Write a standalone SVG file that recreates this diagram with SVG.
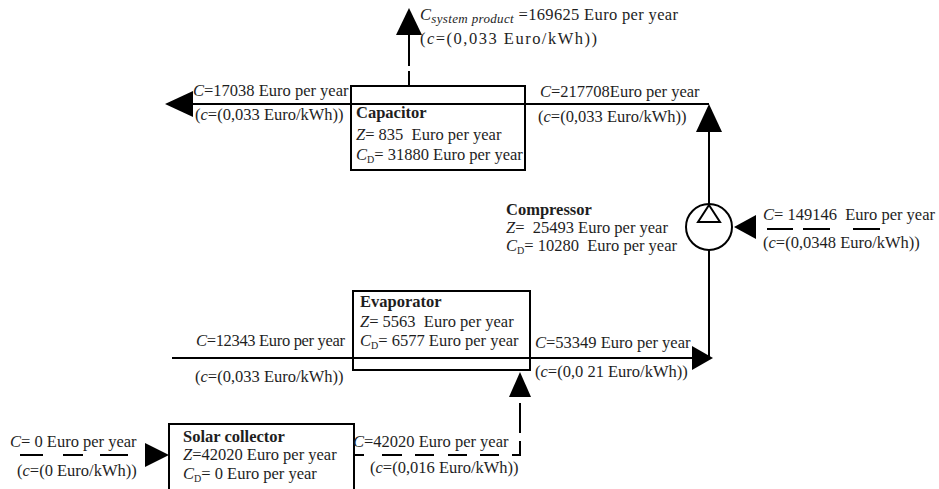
<svg xmlns="http://www.w3.org/2000/svg" width="939" height="489" viewBox="0 0 939 489">
<style>
text{font-family:"Liberation Serif","Times New Roman",serif;font-size:16.5px;fill:#1e1e1e;white-space:pre}
.b{font-weight:bold}
.i{font-style:italic}
.ln{stroke:#000;stroke-width:2;fill:none}
.box{stroke:#000;stroke-width:2;fill:none}
.ah{fill:#000;stroke:none}
</style>
<rect width="939" height="489" fill="#fff"/>
<g id="connectors">
  <line class="ln" x1="409" y1="34" x2="409" y2="66"/>
  <line class="ln" x1="409" y1="71" x2="409" y2="86"/>
  <polygon class="ah" points="409,8 396,35 422,35"/>
  <line class="ln" x1="192" y1="104" x2="709" y2="104"/>
  <polygon class="ah" points="165,104 193,91 193,117"/>
  <line class="ln" x1="709" y1="130" x2="709" y2="204"/>
  <polygon class="ah" points="709,104 696,132 722,132"/>
  <line class="ln" x1="709" y1="250" x2="709" y2="359"/>
  <line class="ln" x1="172" y1="358" x2="694" y2="358"/>
  <polygon class="ah" points="713,358 692,346 692,370"/>
  <polygon class="ah" points="734,227 756,215 756,239"/>
  <line class="ln" x1="767" y1="229" x2="793" y2="229"/>
  <line class="ln" x1="803" y1="229" x2="830" y2="229"/>
  <line class="ln" x1="853" y1="229" x2="880" y2="229"/>
  <line class="ln" x1="20" y1="455" x2="43" y2="455"/>
  <line class="ln" x1="63" y1="455" x2="83" y2="455"/>
  <line class="ln" x1="100" y1="455" x2="128" y2="455"/>
  <polygon class="ah" points="169,455 145,443 145,467"/>
  <line class="ln" x1="354" y1="455" x2="364" y2="455"/>
  <line class="ln" x1="382" y1="455" x2="402" y2="455"/>
  <line class="ln" x1="415" y1="455" x2="434" y2="455"/>
  <line class="ln" x1="448" y1="455" x2="467" y2="455"/>
  <line class="ln" x1="480" y1="455" x2="499" y2="455"/>
  <polyline class="ln" points="512,455 520,455 520,441"/>
  <line class="ln" x1="520" y1="433" x2="520" y2="403"/>
  <polygon class="ah" points="520,372 509,397 531,397"/>
</g>
<g id="capacitor">
  <rect class="box" x="351" y="86" width="174" height="84"/>
  <text class="b" x="356" y="118">Capacitor</text>
  <text x="356" y="140"><tspan class="i">Z</tspan>= 835  Euro per year</text>
  <text x="356" y="160"><tspan class="i">C</tspan><tspan font-size="10" dy="3">D</tspan><tspan dy="-3">= 31880 Euro per year</tspan></text>
</g>
<g id="evaporator">
  <rect class="box" x="353" y="291" width="177" height="79"/>
  <text class="b" x="360" y="307">Evaporator</text>
  <text x="360" y="327"><tspan class="i">Z</tspan>= 5563  Euro per year</text>
  <text x="360" y="346"><tspan class="i">C</tspan><tspan font-size="10" dy="3">D</tspan><tspan dy="-3">= 6577 Euro per year</tspan></text>
</g>
<g id="compressor">
  <circle cx="709" cy="227" r="23" fill="#fff" stroke="#000" stroke-width="2"/>
  <polygon points="709,205 698,222 720,222" fill="#fff" stroke="#000" stroke-width="2"/>
  <text class="b" x="506" y="215">Compressor</text>
  <text x="506" y="233"><tspan class="i">Z</tspan>=  25493 Euro per year</text>
  <text x="506" y="251"><tspan class="i">C</tspan><tspan font-size="10" dy="3">D</tspan><tspan dy="-3">= 10280  Euro per year</tspan></text>
</g>
<g id="solar-collector">
  <rect class="box" x="169" y="424" width="185" height="80"/>
  <text class="b" x="183" y="442">Solar collector</text>
  <text x="183" y="460"><tspan class="i">Z</tspan>=42020 Euro per year</text>
  <text x="183" y="479"><tspan class="i">C</tspan><tspan font-size="10" dy="3">D</tspan><tspan dy="-3">= 0 Euro per year</tspan></text>
</g>
<g id="labels">
  <text x="420" y="20" textLength="258"><tspan class="i">C</tspan><tspan class="i" font-size="13" dy="3">system product</tspan><tspan dy="-3"> =169625 Euro per year</tspan></text>
  <text x="420" y="44" textLength="177">(<tspan class="i">c</tspan>=(0,033 Euro/kWh))</text>
  <text x="193" y="96"><tspan class="i">C</tspan>=17038 Euro per year</text>
  <text x="195" y="120">(<tspan class="i">c</tspan>=(0,033 Euro/kWh))</text>
  <text x="540" y="97"><tspan class="i">C</tspan>=217708Euro per year</text>
  <text x="538" y="122">(<tspan class="i">c</tspan>=(0,033 Euro/kWh))</text>
  <text x="763" y="220"><tspan class="i">C</tspan>= 149146  Euro per year</text>
  <text x="763" y="248">(<tspan class="i">c</tspan>=(0,0348 Euro/kWh))</text>
  <text x="196" y="346" textLength="149"><tspan class="i">C</tspan>=12343 Euro per year</text>
  <text x="195" y="382">(<tspan class="i">c</tspan>=(0,033 Euro/kWh))</text>
  <text x="535" y="348"><tspan class="i">C</tspan>=53349 Euro per year</text>
  <text x="535" y="377">(<tspan class="i">c</tspan>=(0,0 21 Euro/kWh))</text>
  <text x="10" y="447"><tspan class="i">C</tspan>= 0 Euro per year</text>
  <text x="17" y="476">(<tspan class="i">c</tspan>=(0 Euro/kWh))</text>
  <text x="353" y="447"><tspan class="i">C</tspan>=42020 Euro per year</text>
  <text x="370" y="473">(<tspan class="i">c</tspan>=(0,016 Euro/kWh))</text>
</g>
</svg>
